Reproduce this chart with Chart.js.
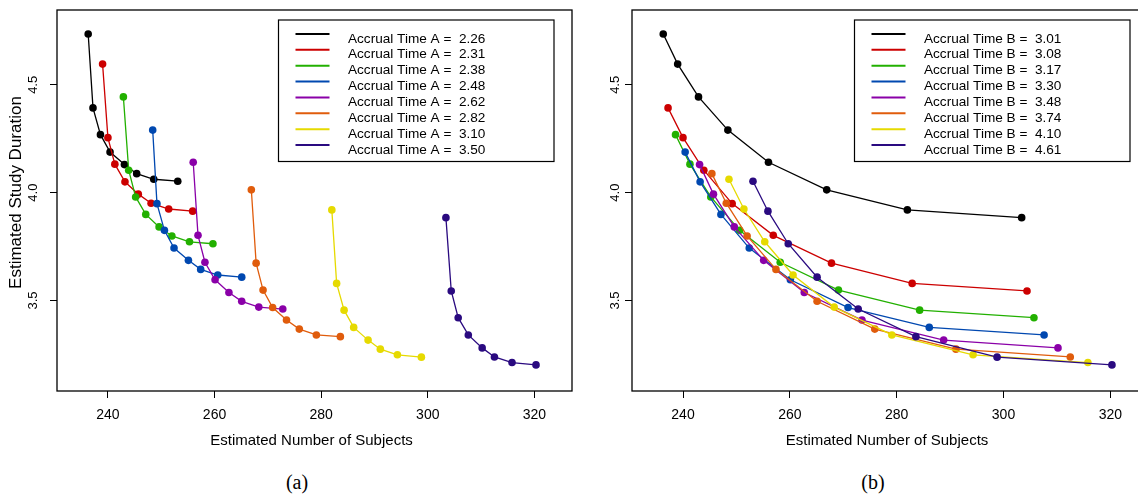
<!DOCTYPE html>
<html>
<head>
<meta charset="utf-8">
<script src="https://cdn.jsdelivr.net/npm/chart.js@4/dist/chart.umd.min.js"></script>
<style>
    html, body { margin: 0; padding: 0; background: #fff; overflow: hidden; width: 1138px; height: 497px; }
    canvas { position: absolute; top: 0; }
    #chartA { left: 0; }
    #chartB { left: 575px; }
    .cap { position: absolute; top: 471px; font-family: "Liberation Serif", "DejaVu Serif", serif; font-size: 20px; color: #000; transform: translateX(-50%); }
</style>
</head>
<body>
<canvas id="chartA" width="580" height="460"></canvas>
<canvas id="chartB" width="581" height="460"></canvas>
<div class="cap" style="left:297px">(a)</div>
<div class="cap" style="left:873px">(b)</div>
<script>
// accrual time labels
const accrualA = ['2.26', '2.31', '2.38', '2.48', '2.62', '2.82', '3.10', '3.50'];
const accrualB = ['3.01', '3.08', '3.17', '3.30', '3.48', '3.74', '4.10', '4.61'];

// estimated number of subjects, one array per accrual time A (index = accrual time B)
const subjA226 = [236.3, 237.2, 238.6, 240.4, 243.1, 245.4, 248.6, 253.1];
const subjA231 = [239.0, 240.0, 241.3, 243.2, 245.7, 248.1, 251.4, 255.9];
const subjA238 = [242.9, 243.9, 245.2, 247.1, 249.6, 252.0, 255.3, 259.7];
const subjA248 = [248.4, 249.2, 250.6, 252.4, 255.1, 257.4, 260.6, 265.1];
const subjA262 = [256.0, 256.9, 258.2, 260.1, 262.7, 265.1, 268.3, 272.8];
const subjA282 = [266.9, 267.8, 269.1, 270.9, 273.5, 275.9, 279.1, 283.6];
const subjA310 = [282.0, 282.9, 284.3, 286.1, 288.8, 291.1, 294.3, 298.8];
const subjA350 = [303.4, 304.4, 305.7, 307.6, 310.2, 312.5, 315.8, 320.3];

// estimated study duration, same layout
const durA226 = [4.736, 4.393, 4.269, 4.188, 4.130, 4.088, 4.062, 4.053];
const durA231 = [4.596, 4.255, 4.132, 4.050, 3.993, 3.951, 3.924, 3.914];
const durA238 = [4.444, 4.104, 3.980, 3.899, 3.841, 3.799, 3.772, 3.763];
const durA248 = [4.290, 3.949, 3.825, 3.743, 3.686, 3.644, 3.618, 3.608];
const durA262 = [4.141, 3.802, 3.677, 3.596, 3.537, 3.496, 3.469, 3.460];
const durA282 = [4.013, 3.673, 3.548, 3.467, 3.409, 3.367, 3.340, 3.332];
const durA310 = [3.920, 3.579, 3.455, 3.375, 3.316, 3.274, 3.248, 3.237];
const durA350 = [3.884, 3.544, 3.420, 3.340, 3.280, 3.238, 3.212, 3.201];

const xTicks = [240, 260, 280, 300, 320];
const yTicks = [3.5, 4.0, 4.5];

const subjRows = [subjA226, subjA231, subjA238, subjA248, subjA262, subjA282, subjA310, subjA350];
const durRows = [durA226, durA231, durA238, durA248, durA262, durA282, durA310, durA350];

const colors = ['#000000', '#cc0000', '#22b000', '#0048b0', '#8a00a8', '#e05c0c', '#e6da00', '#2a0a80'];
const sansFont = '"Liberation Sans", Arial, sans-serif';

function makeDataset(points, i) {
    return {
        data: points,
        showLine: true,
        borderColor: colors[i],
        backgroundColor: colors[i],
        borderWidth: 1.3,
        tension: 0,
        pointRadius: 3.8,
        pointBorderWidth: 0,
        pointBackgroundColor: colors[i],
        order: 10 - i
    };
}

// panel a: one line per accrual time A
const datasetsA = subjRows.map(function (row, i) {
    return makeDataset(row.map(function (x, j) { return { x: x, y: durRows[i][j] }; }), i);
});

// panel b: one line per accrual time B (same grid, read the other way)
const datasetsB = accrualB.map(function (label, j) {
    return makeDataset(subjRows.map(function (row, i) { return { x: row[j], y: durRows[i][j] }; }), j);
});

// box, tick labels, axis titles and the legend, drawn the way R does them
const rFrame = {
    id: 'rFrame',
    afterDraw(chart, args, opts) {
        const ctx = chart.ctx;
        const a = chart.chartArea;
        const xs = chart.scales.x;
        const ys = chart.scales.y;
        ctx.save();
        ctx.strokeStyle = '#000';
        ctx.lineWidth = 1.3;
        ctx.strokeRect(a.left, a.top, a.right - a.left, a.bottom - a.top);

        ctx.fillStyle = '#000';
        ctx.font = '14px ' + sansFont;
        ctx.textAlign = 'center';
        ctx.textBaseline = 'alphabetic';
        xTicks.forEach(function (v) {
            ctx.fillText(String(v), xs.getPixelForValue(v), a.bottom + 28);
        });

        ctx.font = '13px ' + sansFont;
        ctx.textBaseline = 'middle';
        yTicks.forEach(function (v) {
            ctx.save();
            ctx.translate(a.left - opts.yLabOff, ys.getPixelForValue(v));
            ctx.rotate(-Math.PI / 2);
            ctx.fillText(v.toFixed(1), 0, 0);
            ctx.restore();
        });

        ctx.font = '15px ' + sansFont;
        ctx.textBaseline = 'alphabetic';
        ctx.fillText('Estimated Number of Subjects', (a.left + a.right) / 2 - 3, a.bottom + 53.5);

        if (opts.yTitle) {
            ctx.save();
            ctx.font = '17px ' + sansFont;
            ctx.textBaseline = 'middle';
            ctx.translate(a.left - 41, (a.top + a.bottom) / 2 - 8);
            ctx.rotate(-Math.PI / 2);
            ctx.fillText(opts.yTitle, 0, 0);
            ctx.restore();
        }

        // legend box
        const bx = a.right - 18 - 275.5;
        const by = a.top + 10;
        ctx.fillStyle = '#fff';
        ctx.fillRect(bx, by, 275.5, 141.5);
        ctx.lineWidth = 1.2;
        ctx.strokeRect(bx, by, 275.5, 141.5);
        ctx.font = '13.6px ' + sansFont;
        ctx.textAlign = 'left';
        opts.labels.forEach(function (lab, k) {
            const ly = by + 14 + k * 15.87;
            ctx.strokeStyle = colors[k];
            ctx.lineWidth = 2;
            ctx.beginPath();
            ctx.moveTo(bx + 17, ly);
            ctx.lineTo(bx + 51, ly);
            ctx.stroke();
            ctx.fillStyle = '#000';
            ctx.fillText(opts.prefix + lab, bx + 69.5, ly + 8.5);
        });
        ctx.restore();
    }
};

function makeChart(id, datasets, labels, prefix, yTitle, yLabOff) {
    const ctx = document.getElementById(id).getContext('2d');
    return new Chart(ctx, {
        type: 'scatter',
        data: { datasets: datasets },
        options: {
            responsive: false,
            animation: false,
            layout: { padding: { top: 10, right: 8, left: 0, bottom: 0 } },
            plugins: {
                legend: { display: false },
                tooltip: { enabled: false },
                rFrame: { labels: labels, prefix: prefix, yTitle: yTitle, yLabOff: yLabOff }
            },
            scales: {
                x: {
                    type: 'linear',
                    min: 230.45,
                    max: 327.05,
                    afterBuildTicks: function (scale) { scale.ticks = xTicks.map(function (v) { return { value: v }; }); },
                    afterFit: function (scale) { scale.height = 69; },
                    ticks: { display: false },
                    border: { display: false },
                    grid: { drawOnChartArea: false, drawTicks: true, tickLength: 7, color: '#000', lineWidth: 1 }
                },
                y: {
                    type: 'linear',
                    min: 3.08,
                    max: 4.847,
                    afterBuildTicks: function (scale) { scale.ticks = yTicks.map(function (v) { return { value: v }; }); },
                    afterFit: function (scale) { scale.width = 57; },
                    ticks: { display: false },
                    border: { display: false },
                    grid: { drawOnChartArea: false, drawTicks: true, tickLength: 7, color: '#000', lineWidth: 1 }
                }
            }
        },
        plugins: [rFrame]
    });
}

makeChart('chartA', datasetsA, accrualA, 'Accrual Time A =  ', 'Estimated Study Duration', 24);
makeChart('chartB', datasetsB, accrualB, 'Accrual Time B =  ', null, 17);
</script>
</body>
</html>
